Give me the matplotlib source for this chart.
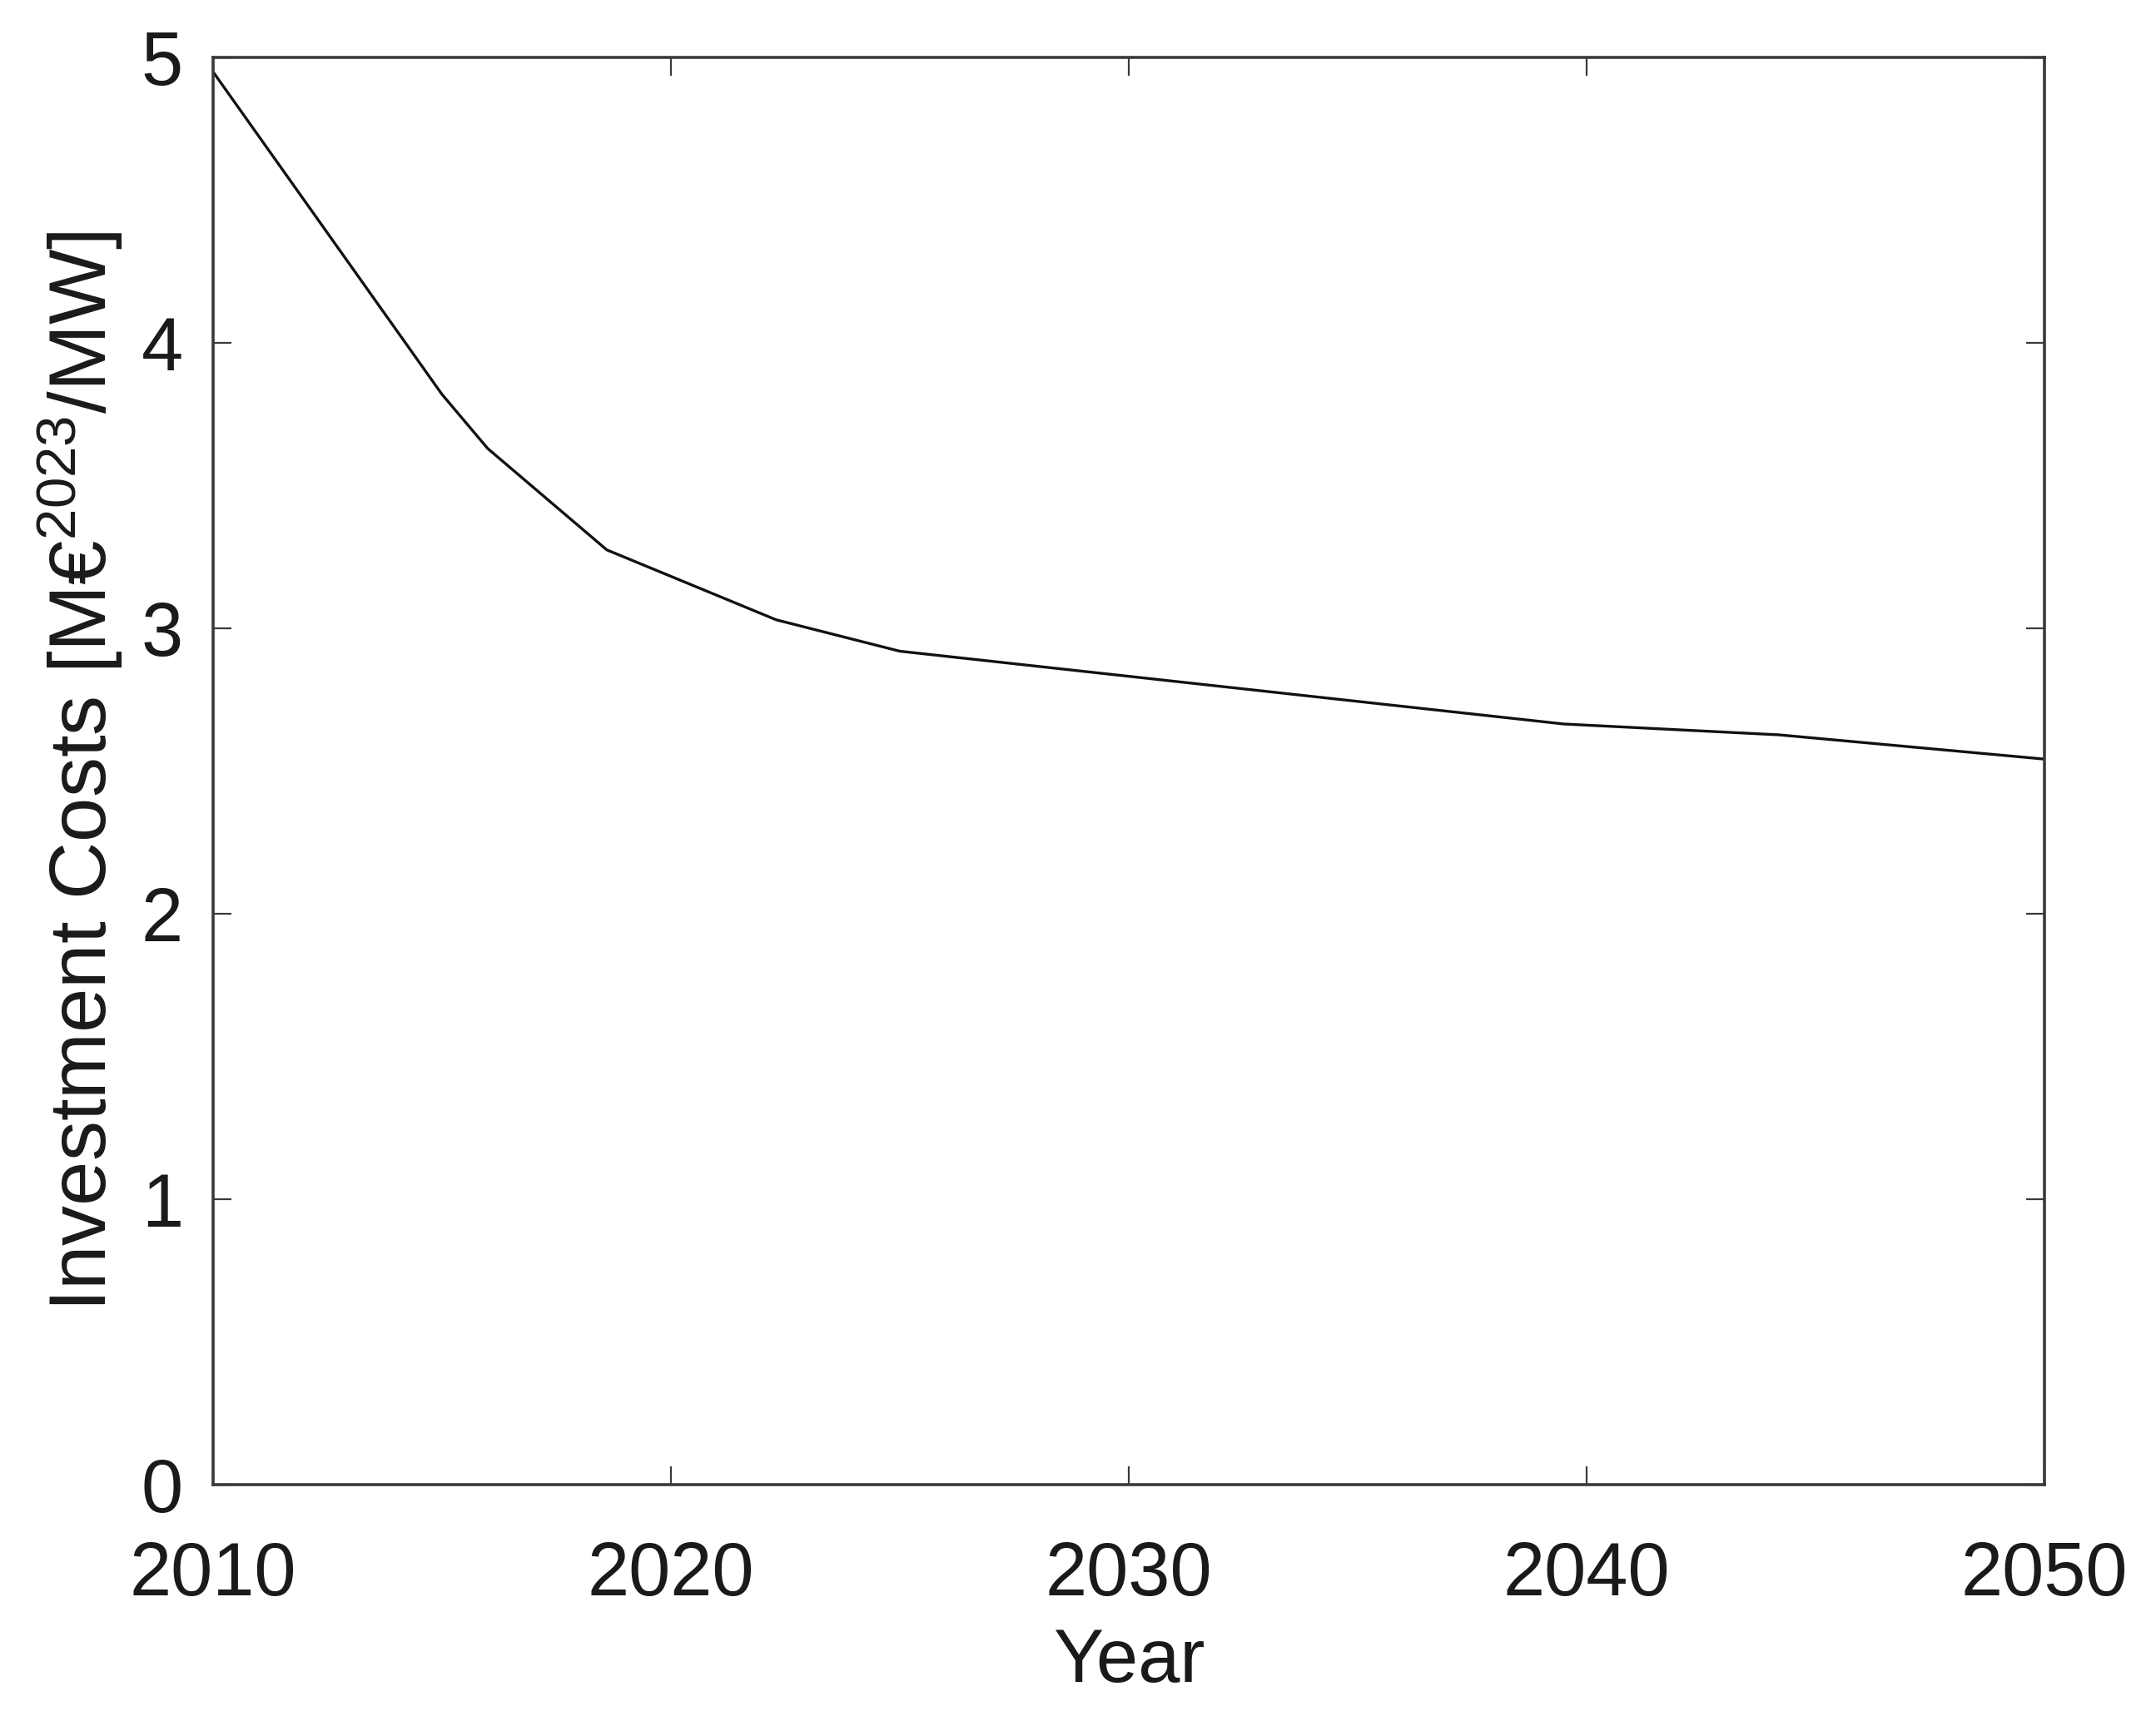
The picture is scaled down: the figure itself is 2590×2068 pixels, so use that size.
import matplotlib
matplotlib.use("Agg")
import matplotlib.pyplot as plt

years = [2010, 2015.0, 2016.0, 2018.6, 2022.3, 2025.0, 2039.5, 2044.2, 2050]
costs = [4.95, 3.82, 3.63, 3.275, 3.03, 2.92, 2.665, 2.627, 2.542]
xticks = [2010, 2020, 2030, 2040, 2050]
yticks = [0, 1, 2, 3, 4, 5]

plt.rcParams['font.family'] = ['Liberation Sans', 'DejaVu Sans']
plt.rcParams['mathtext.default'] = 'regular'

fig = plt.figure(figsize=(25.9, 20.68), dpi=100)
ax = fig.add_axes([0.0988, 0.1373, 0.8495, 0.8293])
ax.plot(years, costs, color='#111111', linewidth=2.4)
ax.set_xlim(2010, 2050)
ax.set_ylim(0, 5)
ax.set_xticks(xticks)
ax.set_yticks(yticks)
for s in ax.spines.values():
    s.set_linewidth(2.6)
    s.set_color('#3a3a3a')
ax.tick_params(direction='in', length=16, width=1.6, colors='#3a3a3a',
               top=True, right=True, labelsize=65, labelcolor='#1a1a1a')
ax.tick_params(axis='x', pad=48)
ax.tick_params(axis='y', pad=26)
ax.set_xlabel('Year', fontsize=65, color='#1a1a1a', labelpad=14)
ax.set_ylabel('Investment Costs [M€$^{2023}$/MW]', fontsize=69, color='#1a1a1a', labelpad=14)
fig.savefig('out.png', dpi=100, facecolor='white')
